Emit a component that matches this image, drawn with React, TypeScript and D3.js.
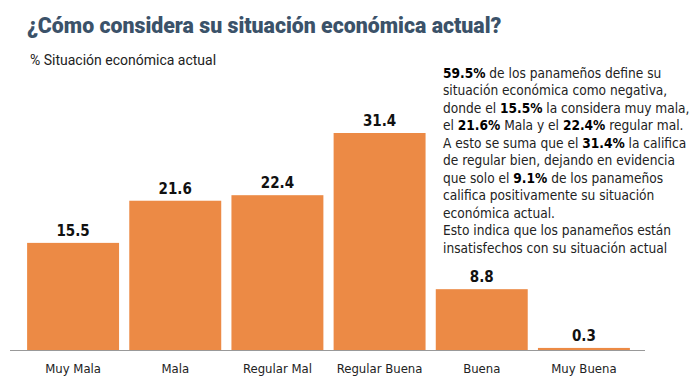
import * as d3 from "d3";

const categories = ["Muy Mala", "Mala", "Regular Mal", "Regular Buena", "Buena", "Muy Buena"];
const values = [15.5, 21.6, 22.4, 31.4, 8.8, 0.3];

// note paragraph, bold fragments marked with **
const noteLines = [
  "**59.5%** de los panameños define su",
  "situación económica como negativa,",
  "donde el **15.5%** la considera muy mala,",
  "el **21.6%** Mala y el **22.4%** regular mal.",
  "A esto se suma que el **31.4%** la califica",
  "de regular bien, dejando en evidencia",
  "que solo el **9.1%** de los panameños",
  "califica positivamente su situación",
  "económica actual.",
  "Esto indica que los panameños están",
  "insatisfechos con su situación actual",
];

const W = 699;
const H = 390;
const baseline = 350;
const narrow = "'DejaVu Sans Condensed', sans-serif";

export default function App() {
  const x = d3.scaleBand<string>().domain(categories).range([22, 635]).paddingInner(0.1).paddingOuter(0.05);
  const y = d3.scaleLinear().domain([0, 31.4]).range([baseline, 133]);

  return (
    <svg width={W} height={H} style={{ position: "absolute", left: 0, top: 0, background: "#fff" }}>
      <text x={27} y={33} fontFamily="Roboto, sans-serif" fontWeight={900} fontSize={21.3} fill="#3b5269">
        ¿Cómo considera su situación económica actual?
      </text>
      <text x={30} y={65} fontFamily="Roboto, sans-serif" fontWeight={400} fontSize={14} fill="#222">
        % Situación económica actual
      </text>

      {categories.map((c, i) => (
        <g key={c}>
          <rect x={x(c)} y={y(values[i])} width={x.bandwidth()} height={baseline - y(values[i])} fill="#ec8a45" />
          <text
            x={x(c)! + x.bandwidth() / 2}
            y={y(values[i]) - 7}
            textAnchor="middle"
            fontFamily={narrow}
            fontWeight="bold"
            fontSize={15}
            fill="#111"
          >
            {values[i]}
          </text>
          <text
            x={x(c)! + x.bandwidth() / 2}
            y={baseline + 23}
            textAnchor="middle"
            fontFamily={narrow}
            fontSize={13}
            fill="#222"
          >
            {c}
          </text>
        </g>
      ))}
      <line x1={10} x2={645} y1={baseline + 0.5} y2={baseline + 0.5} stroke="#999" />

      <g fontFamily={narrow} fontSize={13.6} fill="#222">
        {noteLines.map((line, i) => (
          <text key={i} x={443} y={78 + i * 17.45}>
            {line.split("**").map((part, j) => (
              <tspan key={j} fontWeight={j % 2 ? "bold" : "normal"} fill={j % 2 ? "#000" : "#222"}>
                {part}
              </tspan>
            ))}
          </text>
        ))}
      </g>
    </svg>
  );
}
